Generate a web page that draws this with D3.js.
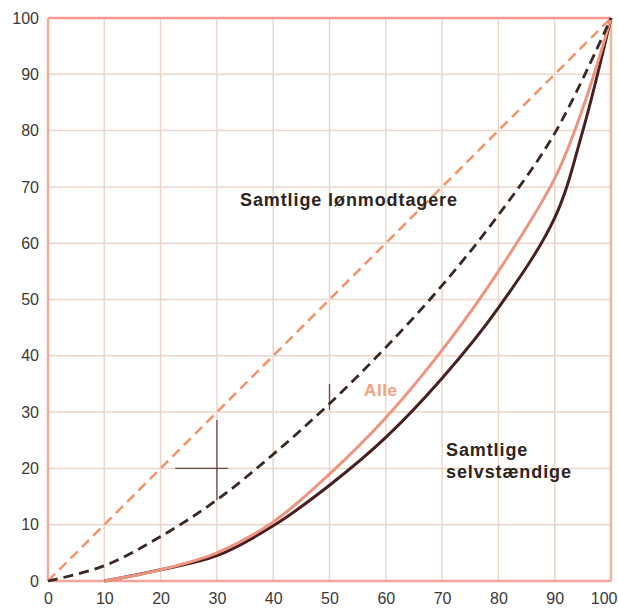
<!DOCTYPE html>
<html><head><meta charset="utf-8">
<script src="https://cdn.jsdelivr.net/npm/d3@7"></script>
<style>body{margin:0;background:#fff;} text{font-family:"Liberation Sans",Arial,sans-serif;}</style>
</head><body>
<svg id="c" width="618" height="608"></svg>
<script>
const xTicks = [0,10,20,30,40,50,60,70,80,90,100];
const yTicks = [0,10,20,30,40,50,60,70,80,90,100];
const equalityX = [0,100];
const equalityY = [0,100];
const loenX = [0,10,20,30,40,50,60,70,80,90,100];
const loenY = [0,2.7,7.9,14.4,22.5,31.5,41.5,52.5,65,79.5,100];
const alleX = [10,20,30,40,50,60,70,80,90,95,100];
const alleY = [0,2,5,10.5,19,29,41,55,71.5,84,100];
const selvX = [10,20,30,40,50,60,70,80,90,95,100];
const selvY = [0,2,4.5,9.8,17,25.5,36,48.5,64.5,80,100];
// stray hand marks on the original figure, in data units
const marksX1 = [22.6, 30, 50];
const marksY1 = [20, 14.4, 30.4];
const marksX2 = [32, 30, 50];
const marksY2 = [20, 28.6, 35];

const svg = d3.select("#c");
const x = d3.scaleLinear().domain([0,100]).range([48,611]);
const y = d3.scaleLinear().domain([0,100]).range([581,18]);

// grid
svg.append("g").selectAll("line").data(xTicks.slice(1,-1)).join("line")
  .attr("x1",d=>x(d)).attr("x2",d=>x(d)).attr("y1",y(0)).attr("y2",y(100))
  .attr("stroke","#ebd6cb").attr("stroke-width",1.5);
svg.append("g").selectAll("line").data(yTicks.slice(1,-1)).join("line")
  .attr("y1",d=>y(d)).attr("y2",d=>y(d)).attr("x1",x(0)).attr("x2",x(100))
  .attr("stroke","#ebd6cb").attr("stroke-width",1.5);

// frame
svg.append("line").attr("x1",x(0)).attr("x2",x(100)).attr("y1",y(100)).attr("y2",y(100)).attr("stroke","#f69890").attr("stroke-width",2.5);
svg.append("line").attr("x1",x(0)).attr("x2",x(100)).attr("y1",y(0)).attr("y2",y(0)).attr("stroke","#f4a49c").attr("stroke-width",2.5);
svg.append("line").attr("x1",x(0)).attr("x2",x(0)).attr("y1",y(0)).attr("y2",y(100)).attr("stroke","#f0ac98").attr("stroke-width",2.5);
svg.append("line").attr("x1",x(100)).attr("x2",x(100)).attr("y1",y(0)).attr("y2",y(100)).attr("stroke","#f2b49a").attr("stroke-width",2.5);

// stray marks
svg.append("g").selectAll("line").data(marksX1).join("line")
  .attr("x1",(d,i)=>x(marksX1[i])).attr("x2",(d,i)=>x(marksX2[i]))
  .attr("y1",(d,i)=>y(marksY1[i])).attr("y2",(d,i)=>y(marksY2[i]))
  .attr("stroke","#6a4a48").attr("stroke-width",1.3);

// axes labels
const xAxis = d3.axisBottom(x).tickValues(xTicks).tickSize(0).tickPadding(12);
const gx = svg.append("g").attr("transform",`translate(0,${y(0)})`).call(xAxis);
gx.select(".domain").remove();
gx.selectAll("text").attr("font-size",16).attr("fill","#3a3a3a").attr("font-family","Liberation Sans, Arial, sans-serif")
  .attr("text-anchor",d=>d===100?"end":"middle").attr("dx",d=>d===100?6:0);
const yAxis = d3.axisLeft(y).tickValues(yTicks).tickSize(0).tickPadding(9);
const gy = svg.append("g").attr("transform",`translate(${x(0)},0)`).call(yAxis);
gy.select(".domain").remove();
gy.selectAll("text").attr("font-size",16).attr("fill","#3a3a3a").attr("font-family","Liberation Sans, Arial, sans-serif");

const line = d3.line().x(d=>x(d[0])).y(d=>y(d[1])).curve(d3.curveCatmullRom.alpha(0.5));
const zip = (a,b)=>a.map((v,i)=>[v,b[i]]);

svg.append("path").attr("d",line(zip(equalityX,equalityY))).attr("fill","none")
  .attr("stroke","#f0966a").attr("stroke-width",2.6).attr("stroke-dasharray","10,6");
svg.append("path").attr("d",line(zip(selvX,selvY))).attr("fill","none")
  .attr("stroke","#4a1f22").attr("stroke-width",3);
svg.append("path").attr("d",line(zip(alleX,alleY))).attr("fill","none")
  .attr("stroke","#ec9580").attr("stroke-width",3);
svg.append("path").attr("d",line(zip(loenX,loenY))).attr("fill","none")
  .attr("stroke","#3a2824").attr("stroke-width",2.8).attr("stroke-dasharray","10,6");

// labels
svg.append("text").attr("x",240).attr("y",206).attr("font-size",18).attr("font-weight","bold")
  .attr("letter-spacing",0.9).attr("fill","#2e2420").text("Samtlige lønmodtagere");
svg.append("text").attr("x",364).attr("y",396).attr("font-size",17).attr("font-weight","bold")
  .attr("letter-spacing",0.6).attr("fill","#f2a27e").text("Alle");
svg.append("text").attr("x",446).attr("y",456).attr("font-size",18).attr("font-weight","bold")
  .attr("letter-spacing",0.9).attr("fill","#2e2420").text("Samtlige");
svg.append("text").attr("x",446).attr("y",478).attr("font-size",18).attr("font-weight","bold")
  .attr("letter-spacing",0.9).attr("fill","#2e2420").text("selvstændige");
</script>
</body></html>
